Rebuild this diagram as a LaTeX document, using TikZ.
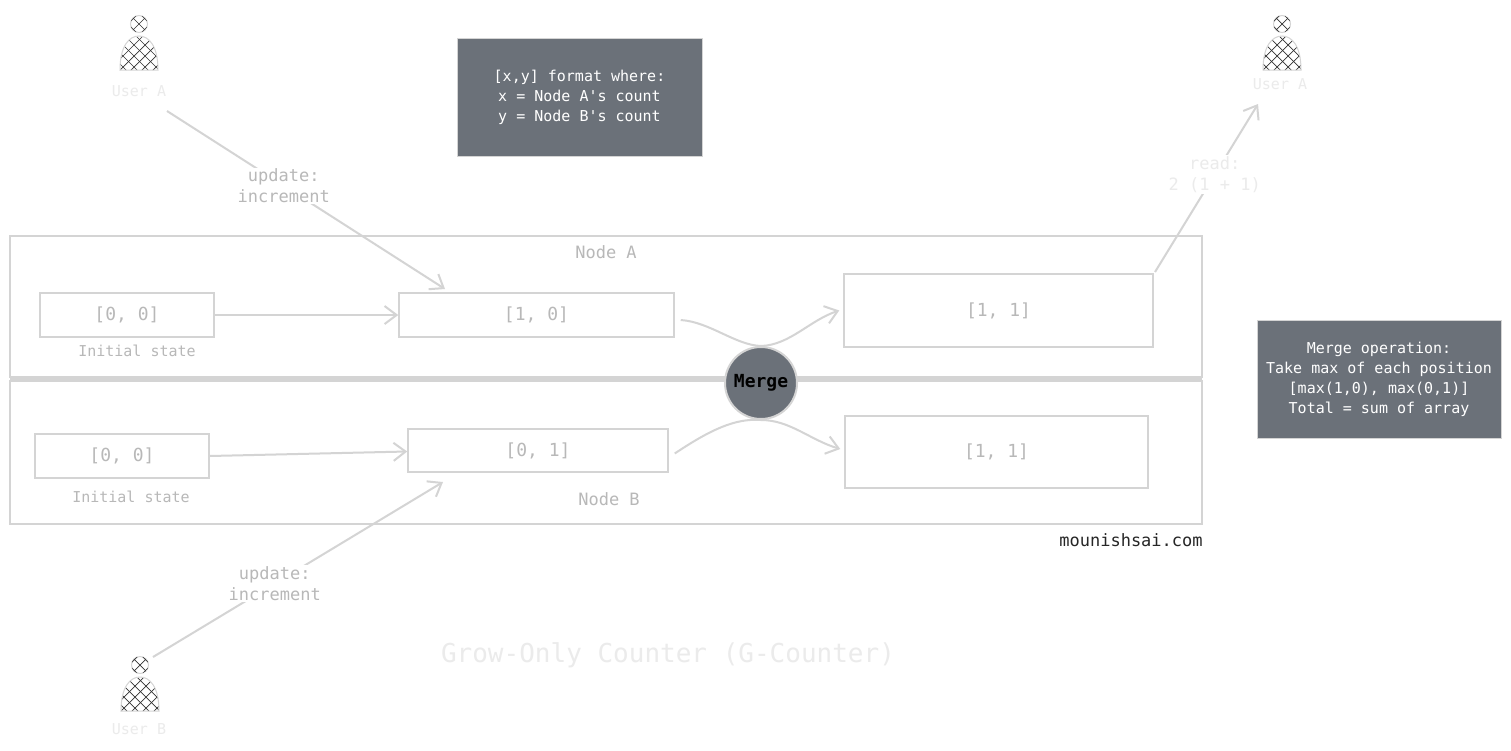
\documentclass[tikz,border=0pt]{standalone}
\usepackage{fontspec}
\setmonofont{DejaVu Sans Mono}
\usetikzlibrary{arrows.meta}
\definecolor{ln}{HTML}{D4D4D4}
\definecolor{tx}{HTML}{B8B8B8}
\definecolor{dk}{HTML}{6B7179}
\definecolor{ttl}{HTML}{EBEBEB}
\tikzset{
 x=1pt,y=-1pt,
 every node/.style={font=\ttfamily},
 frame/.style={draw=ln,line width=1.5pt},
 cbox/.style={draw=ln,line width=1.5pt,text=tx,font=\ttfamily\fontsize{18}{20}\selectfont},
 lbl/.style={text=tx,font=\ttfamily\fontsize{17}{21}\selectfont},
 small/.style={text=tx,font=\ttfamily\fontsize{15}{17}\selectfont},
 arr/.style={draw=ln,line width=2pt,-{Straight Barb[length=12pt,width=18pt]}},
 ln2/.style={draw=ln,line width=2pt},
 info/.style={fill=dk,draw=ln,line width=1pt,text=white,align=center,font=\ttfamily\fontsize{15}{20}\selectfont},
 user/.pic={
  \draw[ln,line width=1pt,fill=white] (0,-12) circle (8.5);
  \begin{scope}
   \clip (-19,34) .. controls (-19,10) and (-10,0) .. (0,0) .. controls (10,0) and (19,10) .. (19,34) -- cycle;
   \foreach \i in {-60,-49,...,60}{\draw[black!80,line width=0.7pt] (\i-40,-20)--(\i+40,60); \draw[black!80,line width=0.7pt] (\i+40,-20)--(\i-40,60);}
  \end{scope}
  \draw[ln,line width=1pt] (-19,34) .. controls (-19,10) and (-10,0) .. (0,0) .. controls (10,0) and (19,10) .. (19,34) -- cycle;
  \begin{scope}\clip (0,-12) circle (8.5);
   \foreach \i in {-22,-11,...,22}{\draw[black!80,line width=0.7pt] (\i-20,-32)--(\i+20,8); \draw[black!80,line width=0.7pt] (\i+20,-32)--(\i-20,8);}
  \end{scope}
 }
}
\begin{document}
\begin{tikzpicture}
\useasboundingbox[fill=white] (0,0) rectangle (1511,750);
\draw[frame] (10,236) rectangle (1202,377);
\draw[frame] (10,381) rectangle (1202,524);
\draw[ln,line width=4pt] (10,379) -- (1202,379);
\node[lbl] (na) at (606,252) {Node A};
\node[lbl] (nb) at (609,499) {Node B};
\node[cbox,minimum width=174pt,minimum height=44pt] (a0) at (127,315) {[0, 0]};
\node[small] (ia) at (137,351) {Initial state};
\node[cbox,minimum width=275pt,minimum height=44pt] (a1) at (536.5,315) {[1, 0]};
\node[cbox,minimum width=309pt,minimum height=73pt] (a2) at (998.5,310.5) {[1, 1]};
\node[cbox,minimum width=174pt,minimum height=44pt] (b0) at (122,456) {[0, 0]};
\node[small] (ib) at (131,497) {Initial state};
\node[cbox,minimum width=260pt,minimum height=43pt] (b1) at (538,450.5) {[0, 1]};
\node[cbox,minimum width=303pt,minimum height=72pt] (b2) at (996.5,452) {[1, 1]};
\node[circle,fill=dk,draw=ln,line width=2pt,minimum size=72pt,inner sep=0pt,text=black,font=\ttfamily\bfseries\fontsize{18}{20}\selectfont] (m) at (761,383) {Merge};
\draw[arr] (a0.east) -- (a1.west);
\draw[arr] (b0.east) -- ([yshift=-1pt]b1.west);
\draw[ln2] ([xshift=6pt,yshift=-5pt]a1.east) .. controls (710,322) and (735,345) .. (m.north);
\draw[arr] (m.north) .. controls (790,345) and (810,320) .. ([xshift=-4pt]a2.west);
\draw[ln2] ([xshift=6pt,yshift=-3pt]b1.east) .. controls (710,430) and (735,418) .. (m.south);
\draw[arr] (m.south) .. controls (790,420) and (810,440) .. ([xshift=-4pt,yshift=3pt]b2.west);
\pic at (139,36) {user};
\node[small,text=ttl] (ua) at (139,91) {User A};
\pic at (140,677) {user};
\node[small,text=ttl] (ub) at (139,729) {User B};
\pic at (1282,36) {user};
\node[small,text=ttl] (ua2) at (1280,84) {User A};
\coordinate (ua1s) at (167,111);
\coordinate (a1t) at (445,289);
\draw[arr] (ua1s) -- node[lbl,fill=white,align=center,pos=0.42,inner sep=1pt]{update:\\increment} (a1t);
\coordinate (ubs) at (153,657);
\coordinate (b1b) at (443,482);
\draw[arr] (ubs) -- node[lbl,fill=white,align=center,pos=0.42,inner sep=1pt]{update:\\increment} (b1b);
\coordinate (a2r) at (1155,272);
\coordinate (ua2b) at (1258,104);
\draw[arr] (a2r) -- node[lbl,text=ttl,fill=white,align=center,pos=0.58,inner sep=1pt]{read:\\2 (1 + 1)} (ua2b);
\node[info,minimum width=245pt,minimum height=118pt] (i1) at (579.5,97) {[x,y] format where:\\x = Node A's count\\y = Node B's count};
\node[info,minimum width=244pt,minimum height=118pt] (i2) at (1379,379) {Merge operation:\\Take max of each position\\{[max(1,0), max(0,1)]}\\Total = sum of array};
\node[text=black!85,font=\ttfamily\fontsize{17}{20}\selectfont] (url) at (1131,540) {mounishsai.com};
\node[text=ttl,font=\ttfamily\fontsize{26}{30}\selectfont] (title) at (668,655) {Grow-Only Counter (G-Counter)};
\end{tikzpicture}
\end{document}
